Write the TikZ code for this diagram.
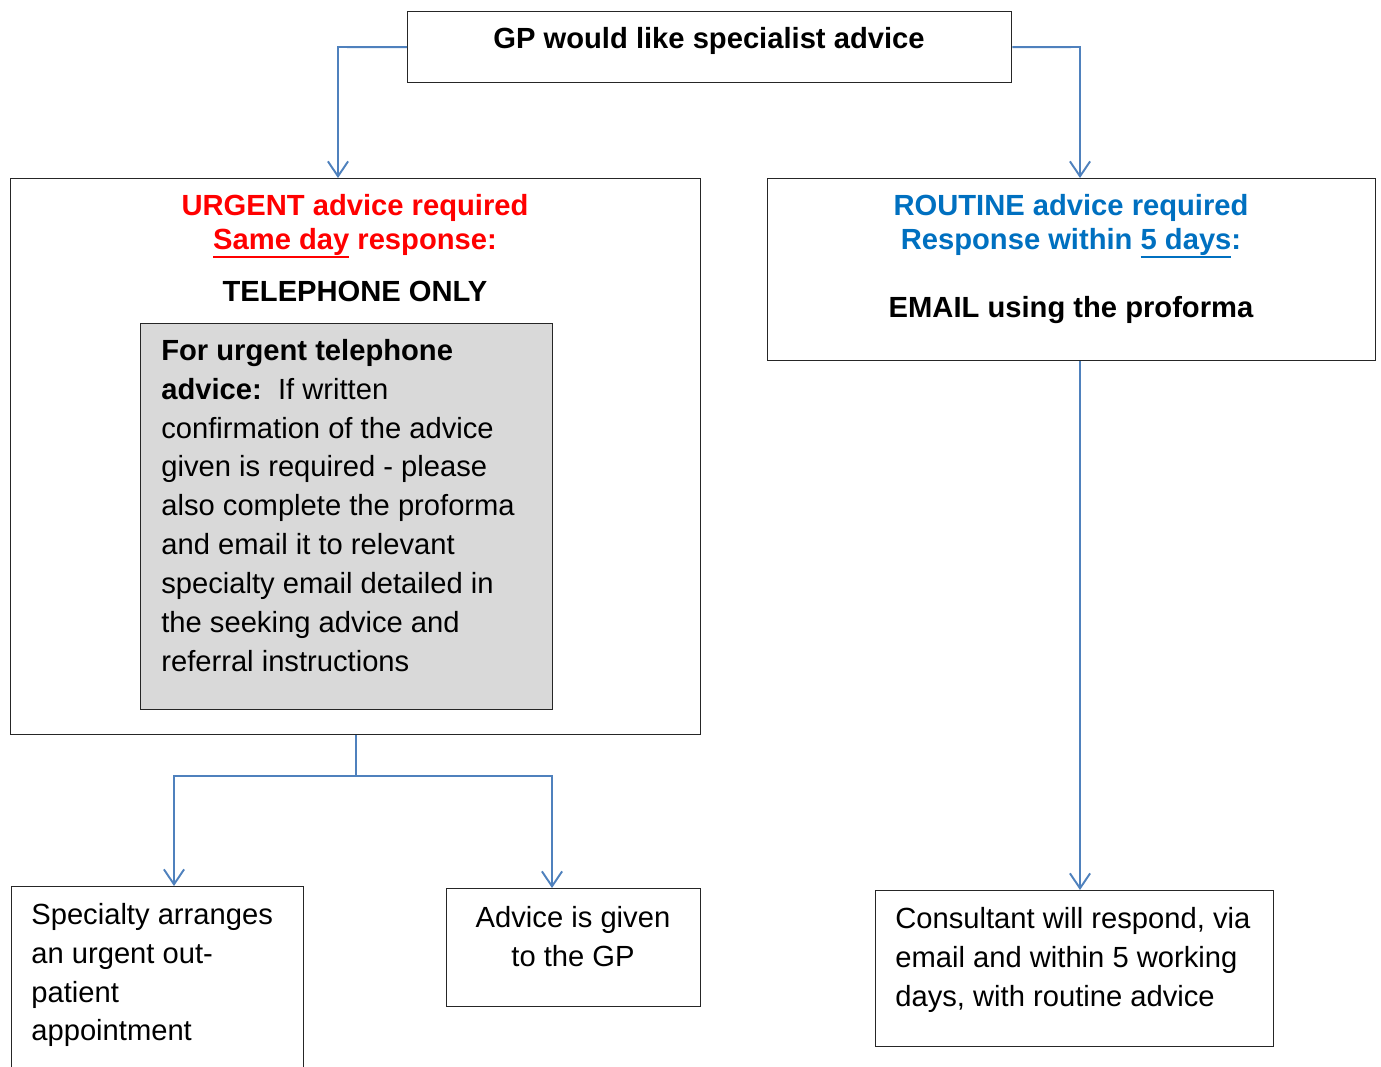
\documentclass[tikz,border=0pt]{standalone}
\usepackage{fontspec}
\setmainfont{Liberation Sans}
\usepackage{tikz}
\usepackage{xcolor}
\usetikzlibrary{arrows.meta}
\definecolor{urgentred}{HTML}{FF0000}
\definecolor{routineblue}{HTML}{0070C0}
\definecolor{linkblue}{HTML}{4F81BD}
\definecolor{notegrey}{HTML}{D9D9D9}
\newcommand{\uln}[1]{\setbox0\hbox{#1}\rlap{\rule[-5pt]{\wd0}{1.5pt}}\box0\relax}

\tikzset{
    box/.style={draw=black!85, line width=0.8pt, anchor=north west, inner sep=0},
    txt/.style={inner sep=0, font=\fontsize{16.6}{22.1}\selectfont},
    head/.style={inner sep=0, align=center, font=\bfseries\fontsize{16.6}{19.3}\selectfont},
    link/.style={draw=linkblue, line width=1.1pt, -{Straight Barb[length=8.5pt,width=11.5pt,line width=1.1pt]}}
}

\begin{document}
\begin{tikzpicture}[x=0.02cm, y=-0.02cm]
    \clip (0, 0) rectangle (1381, 1066);
    \node[box, minimum width=12.08cm, minimum height=1.42cm] (gp) at (407, 11) {};
    \node[box, minimum width=13.8cm, minimum height=11.12cm] (urgent) at (10, 178) {};
    \node[box, fill=notegrey, minimum width=8.24cm, minimum height=7.72cm] (note) at (140, 323) {};
    \node[box, minimum width=12.16cm, minimum height=3.64cm] (routine) at (767, 178) {};
    \node[box, minimum width=5.84cm, minimum height=4.2cm] (outpat) at (11, 886) {};
    \node[box, minimum width=5.08cm, minimum height=2.36cm] (advice) at (446, 888) {};
    \node[box, minimum width=7.96cm, minimum height=3.12cm] (consult) at (875, 890) {};
    \node[head, anchor=north] (gptxt) at (709, 27) {GP would like specialist advice};
    \node[head, anchor=north, text=urgentred] (urghead) at (355, 194) {URGENT advice required\\\uln{Same day} response:};
    \node[head, anchor=north] (phone) at (355, 281) {TELEPHONE ONLY};
    \node[head, anchor=north, text=routineblue] (rouhead) at (1071, 194) {ROUTINE advice required\\Response within \uln{5 days}:};
    \node[head, anchor=north] (email) at (1071, 296) {EMAIL using the proforma};
    \node[txt, anchor=north west, align=left] (notetxt) at (161, 339) {\textbf{For urgent telephone}\\\textbf{advice:}\ \ If written\\confirmation of the advice\\given is required - please\\also complete the proforma\\and email it to relevant\\specialty email detailed in\\the seeking advice and\\referral instructions};
    \node[txt, anchor=north west, align=left] (outtxt) at (31, 903) {Specialty arranges\\an urgent out-\\patient\\appointment};
    \node[txt, anchor=north, align=center] (advtxt) at (573, 906) {Advice is given\\to the GP};
    \node[txt, anchor=north west, align=left] (contxt) at (895, 907) {Consultant will respond, via\\email and within 5 working\\days, with routine advice};
    \coordinate (lbend) at (338, 47);
    \coordinate (rbend) at (1080, 47);
    \coordinate (ljoin) at (174, 776);
    \coordinate (rjoin) at (552, 776);
    \draw[link] (gp.west) -- (lbend) -- (lbend |- urgent.north);
    \draw[link] (gp.east) -- (rbend) -- (rbend |- routine.north);
    \draw[link] (urgent.south) |- (ljoin) -- (ljoin |- outpat.north);
    \draw[link] (urgent.south) |- (rjoin) -- (rjoin |- advice.north);
    \draw[link] (rbend |- routine.south) -- (rbend |- consult.north);
\end{tikzpicture}
\end{document}
